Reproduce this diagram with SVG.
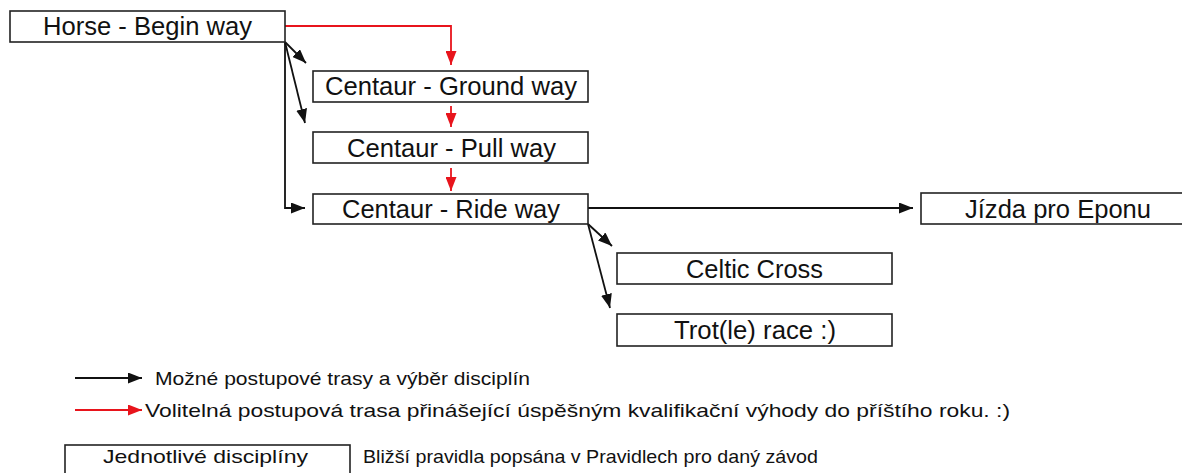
<svg xmlns="http://www.w3.org/2000/svg" width="1182" height="473" viewBox="0 0 1182 473">
<style>
.box{fill:#fff;stroke:#222;stroke-width:1.6}
.lbl{font-family:"Liberation Sans",Arial,sans-serif;font-size:25px;fill:#111;text-anchor:middle}
.leg{font-family:"Liberation Sans",Arial,sans-serif;font-size:19px;fill:#111}
.blk{stroke:#111;stroke-width:1.8;fill:none}
.red{stroke:#e8141c;stroke-width:1.8;fill:none}
</style>
<defs>
<marker id="ab" viewBox="0 0 14 11" refX="14" refY="5.5" markerWidth="14" markerHeight="11" markerUnits="userSpaceOnUse" orient="auto"><path d="M0,0 L14,5.5 L0,11 z" fill="#111"/></marker>
<marker id="ar" viewBox="0 0 14 11" refX="14" refY="5.5" markerWidth="14" markerHeight="11" markerUnits="userSpaceOnUse" orient="auto"><path d="M0,0 L14,5.5 L0,11 z" fill="#e8141c"/></marker>
</defs>
<rect width="1182" height="473" fill="#fff"/>
<g id="connectors">
<path class="red" d="M285,26 H451 V65" marker-end="url(#ar)"/>
<path class="red" d="M451,106 V127" marker-end="url(#ar)"/>
<path class="red" d="M451,168 V191" marker-end="url(#ar)"/>
<path class="blk" d="M285,42 L306,63" marker-end="url(#ab)"/>
<path class="blk" d="M285,42 L305,123" marker-end="url(#ab)"/>
<path class="blk" d="M285,42 V208 H305" marker-end="url(#ab)"/>
<path class="blk" d="M588,208 H913" marker-end="url(#ab)"/>
<path class="blk" d="M588,224 L612,246" marker-end="url(#ab)"/>
<path class="blk" d="M588,224 L610,308" marker-end="url(#ab)"/>
</g>
<g id="horse"><rect class="box" x="10" y="11" width="275" height="31"/><text class="lbl" x="147.5" y="35" textLength="209" lengthAdjust="spacingAndGlyphs">Horse - Begin way</text></g>
<g id="ground"><rect class="box" x="313" y="71" width="275" height="31"/><text class="lbl" x="451" y="95" textLength="252" lengthAdjust="spacingAndGlyphs">Centaur - Ground way</text></g>
<g id="pull"><rect class="box" x="313" y="132" width="275" height="31"/><text class="lbl" x="451.5" y="156.5" textLength="209" lengthAdjust="spacingAndGlyphs">Centaur - Pull way</text></g>
<g id="ride"><rect class="box" x="313" y="194" width="275" height="30"/><text class="lbl" x="451" y="218" textLength="218" lengthAdjust="spacingAndGlyphs">Centaur - Ride way</text></g>
<g id="epona"><rect class="box" x="921" y="193" width="275" height="31"/><text class="lbl" x="1058" y="217.5" textLength="186" lengthAdjust="spacingAndGlyphs">Jízda pro Eponu</text></g>
<g id="celtic"><rect class="box" x="617" y="253" width="275" height="31"/><text class="lbl" x="754.5" y="277.5" textLength="137" lengthAdjust="spacingAndGlyphs">Celtic Cross</text></g>
<g id="trot"><rect class="box" x="617" y="314" width="275" height="32"/><text class="lbl" x="755" y="339" textLength="162" lengthAdjust="spacingAndGlyphs">Trot(le) race :)</text></g>
<g id="legend">
<path class="blk" d="M75,378 H142" marker-end="url(#ab)"/>
<text class="leg" x="155" y="385" textLength="375" lengthAdjust="spacingAndGlyphs">Možné postupové trasy a výběr disciplín</text>
<path class="red" d="M75,410 H142" marker-end="url(#ar)"/>
<text class="leg" x="145" y="417" textLength="865" lengthAdjust="spacingAndGlyphs">Volitelná postupová trasa přinášející úspěšným kvalifikační výhody do příštího roku. :)</text>
<rect class="box" x="65" y="445" width="285" height="32"/>
<text class="leg" x="205.5" y="463" text-anchor="middle" textLength="205" lengthAdjust="spacingAndGlyphs">Jednotlivé disciplíny</text>
<text class="leg" x="363" y="463" textLength="455" lengthAdjust="spacingAndGlyphs">Bližší pravidla popsána v Pravidlech pro daný závod</text>
</g>
</svg>
